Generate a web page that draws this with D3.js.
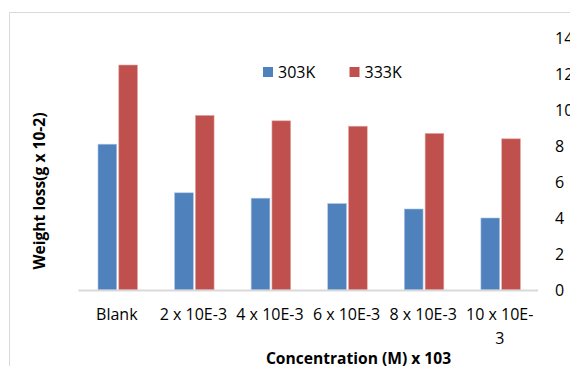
<!DOCTYPE html>
<html>
<head>
<meta charset="utf-8">
<script src="https://cdn.jsdelivr.net/npm/d3@7"></script>
<style>
  html, body { margin: 0; padding: 0; background: #fff; }
  svg { display: block; font-family: Carlito, "Open Sans", sans-serif; }
</style>
</head>
<body>
<svg id="chart" width="570" height="366"></svg>
<script>
// ---- data ----
const categories = ["Blank", "2 x 10E-3", "4 x 10E-3", "6 x 10E-3", "8 x 10E-3", "10 x 10E-3"];
const seriesNames = ["303K", "333K"];
const values303 = [8.1, 5.4, 5.1, 4.8, 4.5, 4.0];
const values333 = [12.5, 9.7, 9.4, 9.1, 8.7, 8.4];
const yTicks = [0, 2, 4, 6, 8, 10, 12, 14];
const colors = ["#4F81BD", "#C0504D"];
const xTitle = "Concentration (M) x 103";
const yTitle = "Weight loss(g x 10-2)";

const FONT = '"Open Sans", sans-serif';
const svg = d3.select("#chart");

// chart frame
svg.append("path")
  .attr("d", "M9.5,366 V12.5 H570")
  .attr("fill", "none").attr("stroke", "#d9d9d9").attr("stroke-width", 1);

const x0 = d3.scaleBand().domain(categories).range([78.5, 538]).paddingInner(0).paddingOuter(0);
const y = d3.scaleLinear().domain([0, 14]).range([290, 38]);
const x1 = d3.scaleBand().domain(seriesNames).range([19.5, 19.5 + 39.5]).paddingInner(0.1);

const table = categories.map((c, i) => ({ cat: c, vals: [values303[i], values333[i]] }));

const groups = svg.append("g").selectAll("g").data(table).join("g")
  .attr("transform", d => `translate(${x0(d.cat)},0)`);

groups.selectAll("rect").data(d => d.vals.map((v, k) => ({ s: seriesNames[k], v, k })))
  .join("rect")
  .attr("x", d => x1(d.s))
  .attr("width", x1.bandwidth())
  .attr("y", d => y(d.v))
  .attr("height", d => y(0) - y(d.v))
  .attr("fill", d => colors[d.k])
  .attr("stroke", d => d.k === 0 ? "#a9c2e3" : "#e3a9a8")
  .attr("stroke-width", 0.6);

// baseline
svg.append("line")
  .attr("x1", x0.range()[0]).attr("x2", x0.range()[1])
  .attr("y1", y(0) + 0.5).attr("y2", y(0) + 0.5)
  .attr("stroke", "#d9d9d9").attr("stroke-width", 2);

// right y axis labels
const yAxis = d3.axisRight(y).tickValues(yTicks).tickSize(0).tickPadding(0);
const gy = svg.append("g").attr("transform", "translate(555,0)").call(yAxis);
gy.select(".domain").remove();
gy.selectAll("text").attr("font-size", 16).attr("fill", "#000").attr("font-family", FONT);

// x axis labels with wrapping
const xAxis = d3.axisBottom(x0).tickSize(0).tickPadding(0);
const gx = svg.append("g").attr("transform", "translate(0,300)").call(xAxis);
gx.select(".domain").remove();
gx.selectAll("text").attr("font-size", 16).attr("fill", "#000").attr("font-family", FONT)
  .attr("y", 20).attr("dy", 0)
  .each(function(d) {
    const t = d3.select(this);
    const maxW = x0.bandwidth() - 6;
    if (this.getComputedTextLength() > maxW) {
      const idx = d.lastIndexOf("-");
      const lines = [d.slice(0, idx + 1), d.slice(idx + 1)];
      t.text(null);
      lines.forEach((ln, i) => {
        t.append("tspan").attr("x", 0).attr("dy", i === 0 ? 0 : 24).text(ln);
      });
    }
  });

// legend
const legend = svg.append("g");
const legX = [263, 349.5];
seriesNames.forEach((s, i) => {
  legend.append("rect").attr("x", legX[i]).attr("y", 67).attr("width", 10).attr("height", 10).attr("fill", colors[i]);
  legend.append("text").attr("x", legX[i] + 15).attr("y", 72).attr("dy", "0.35em")
    .attr("font-family", FONT).attr("font-size", 16).text(s);
});

// axis titles
svg.append("text").attr("x", 358.5).attr("y", 359).attr("dy", "0.35em")
  .attr("text-anchor", "middle").attr("font-weight", "bold").attr("font-size", 15.6)
  .attr("font-family", FONT).text(xTitle);

svg.append("text").attr("transform", "translate(40,191) rotate(-90)")
  .attr("dy", "0.35em").attr("text-anchor", "middle").attr("font-weight", "bold").attr("font-size", 15.6)
  .attr("font-family", FONT).text(yTitle);
</script>
</body>
</html>
